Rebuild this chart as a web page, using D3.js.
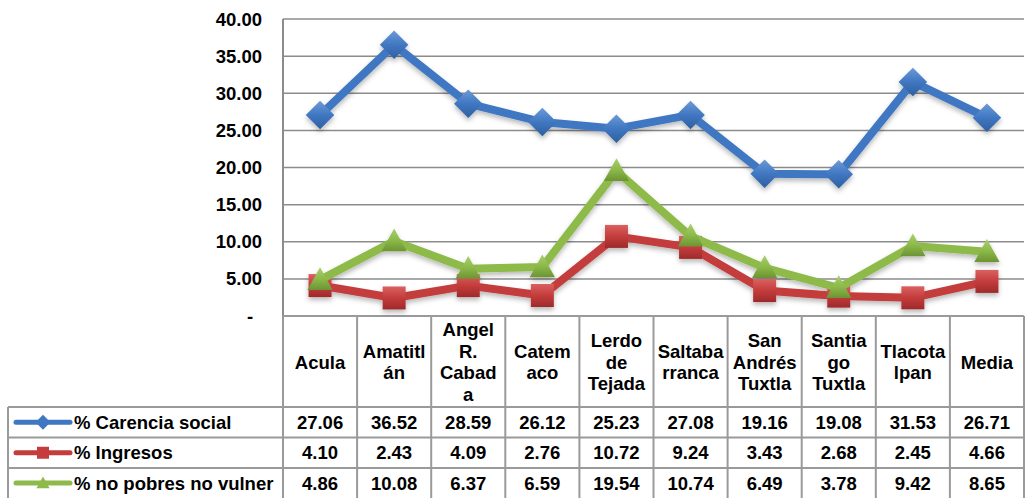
<!DOCTYPE html>
<html><head><meta charset="utf-8">
<script src="https://cdn.jsdelivr.net/npm/d3@7"></script>
<style>body{margin:0;background:#fff}svg{display:block}text{font-family:"Liberation Sans",Arial,sans-serif;font-weight:bold;fill:#000}</style>
</head><body>
<svg id="c" width="1028" height="498"></svg>
<script>
const categories = ["Acula","Amatitlán","Angel R. Cabada","Catemaco","Lerdo de Tejada","Saltabarranca","San Andrés Tuxtla","Santiago Tuxtla","Tlacotalpan","Media"];
const headerLines = [["Acula"],["Amatitl","án"],["Angel","R.","Cabad","a"],["Catem","aco"],["Lerdo","de","Tejada"],["Saltaba","rranca"],["San","Andrés","Tuxtla"],["Santia","go","Tuxtla"],["Tlacota","lpan"],["Media"]];
const seriesNames = ["% Carencia social","% Ingresos","% no pobres no vulner"];
const carencia = [27.06,36.52,28.59,26.12,25.23,27.08,19.16,19.08,31.53,26.71];
const ingresos = [4.10,2.43,4.09,2.76,10.72,9.24,3.43,2.68,2.45,4.66];
const noPobres = [4.86,10.08,6.37,6.59,19.54,10.74,6.49,3.78,9.42,8.65];
const yTicks = [0,5,10,15,20,25,30,35,40];

const series = [
  {name: seriesNames[0], values: carencia, color: "#4077c2", dark:"#2f5f9e", light:"#6d9ad6", shape: "diamond"},
  {name: seriesNames[1], values: ingresos, color: "#c43c3c", dark:"#9e2a2a", light:"#da6161", shape: "square"},
  {name: seriesNames[2], values: noPobres, color: "#8dba4a", dark:"#6c9433", light:"#a9cf6e", shape: "triangle"}
];

const FS = 18.5;
const svg = d3.select("#c");
const L = 283, R = 1024, T = 19, B = 316;
const x = d3.scaleBand().domain(categories).range([L, R]).padding(0);
const y = d3.scaleLinear().domain([0, 40]).range([B, T]);

const defs = svg.append("defs");
const f = defs.append("filter").attr("id","sh").attr("x","-20%").attr("y","-20%").attr("width","140%").attr("height","160%");
f.append("feDropShadow").attr("dx",0).attr("dy",3).attr("stdDeviation",2.5).attr("flood-color","#000").attr("flood-opacity",0.28);
series.forEach((s,i)=>{
  const g = defs.append("linearGradient").attr("id","g"+i).attr("x1",0).attr("y1",0).attr("x2",0).attr("y2",1);
  g.append("stop").attr("offset","0%").attr("stop-color",s.light);
  g.append("stop").attr("offset","50%").attr("stop-color",s.color);
  g.append("stop").attr("offset","100%").attr("stop-color",s.dark);
});

svg.append("g").selectAll("line").data(yTicks.filter(d=>d>0)).join("line")
  .attr("x1",L).attr("x2",R).attr("y1",d=>y(d)).attr("y2",d=>y(d))
  .attr("stroke","#8c8c8c").attr("stroke-width",1.5);
svg.append("line").attr("x1",L).attr("x2",L).attr("y1",T).attr("y2",B).attr("stroke","#8c8c8c").attr("stroke-width",2);

svg.append("g").selectAll("text").data(yTicks).join("text")
  .attr("x",d=>d===0?250:262).attr("y",d=>y(d)+6.5)
  .attr("text-anchor",d=>d===0?"middle":"end").attr("font-size",FS)
  .text(d=>d===0?"-":d.toFixed(2));

const tableColor = "#9a9a9a";
const rowY = [316, 407, 437.5, 468, 498];
const tg = svg.append("g");
tg.append("line").attr("x1",L).attr("x2",R).attr("y1",rowY[0]).attr("y2",rowY[0]).attr("stroke",tableColor).attr("stroke-width",2);
[1,2,3].forEach(k=>tg.append("line").attr("x1",8).attr("x2",R).attr("y1",rowY[k]).attr("y2",rowY[k]).attr("stroke",tableColor).attr("stroke-width",2));
const colEdges = categories.map(c=>x(c)).concat([R]);
tg.selectAll("line.v").data(colEdges).join("line").attr("class","v")
  .attr("x1",d=>d).attr("x2",d=>d).attr("y1",rowY[0]).attr("y2",498).attr("stroke",tableColor).attr("stroke-width",2);
tg.append("line").attr("x1",8).attr("x2",8).attr("y1",rowY[1]).attr("y2",498).attr("stroke",tableColor).attr("stroke-width",2);

const hMid = (rowY[0]+rowY[1])/2;
categories.forEach((c,i)=>{
  const lines = headerLines[i];
  const lh = 21.4;
  const y0 = hMid - (lines.length-1)*lh/2 + 7;
  const t = svg.append("text").attr("text-anchor","middle").attr("font-size",FS);
  lines.forEach((ln,j)=>t.append("tspan").attr("x",x(c)+x.bandwidth()/2).attr("y",y0+j*lh).text(ln));
});

function markerPath(shape, s){
  if(shape==="diamond"){ const h=s*0.62; return `M0,${-h}L${h},0L0,${h}L${-h},0Z`; }
  if(shape==="square"){ const h=s*0.5; return `M${-h},${-h}H${h}V${h}H${-h}Z`; }
  const w=s*0.55, h=s*0.55; return `M0,${-h}L${w},${h*0.8}H${-w}Z`;
}

series.forEach((s,k)=>{
  const cy = (rowY[k+1]+rowY[k+2])/2;
  svg.append("g").selectAll("text").data(s.values).join("text")
    .attr("x",(d,i)=>x(categories[i])+x.bandwidth()/2).attr("y",cy+6.5)
    .attr("text-anchor","middle").attr("font-size",FS).text(d=>d.toFixed(2));
  svg.append("line").attr("x1",16).attr("x2",70).attr("y1",cy).attr("y2",cy)
    .attr("stroke",s.color).attr("stroke-width",5).attr("stroke-linecap","round");
  svg.append("path").attr("d",markerPath(s.shape,12)).attr("transform",`translate(43,${cy})`).attr("fill",s.color);
  svg.append("text").attr("x",74).attr("y",cy+6.5).attr("font-size",FS).text(s.name);
});

const line = d3.line().x((d,i)=>x(categories[i])+x.bandwidth()/2).y(d=>y(d));
const lg = svg.append("g").attr("filter","url(#sh)");
series.forEach((s,k)=>{
  const g = lg.append("g");
  g.append("path").datum(s.values).attr("d",line).attr("fill","none")
    .attr("stroke",s.color).attr("stroke-width",8).attr("stroke-linejoin","round");
  g.selectAll("path.m").data(s.values).join("path").attr("class","m")
    .attr("d",markerPath(s.shape,23))
    .attr("transform",(d,i)=>`translate(${x(categories[i])+x.bandwidth()/2},${y(d)})`)
    .attr("fill",`url(#g${k})`);
});
</script>
</body></html>
